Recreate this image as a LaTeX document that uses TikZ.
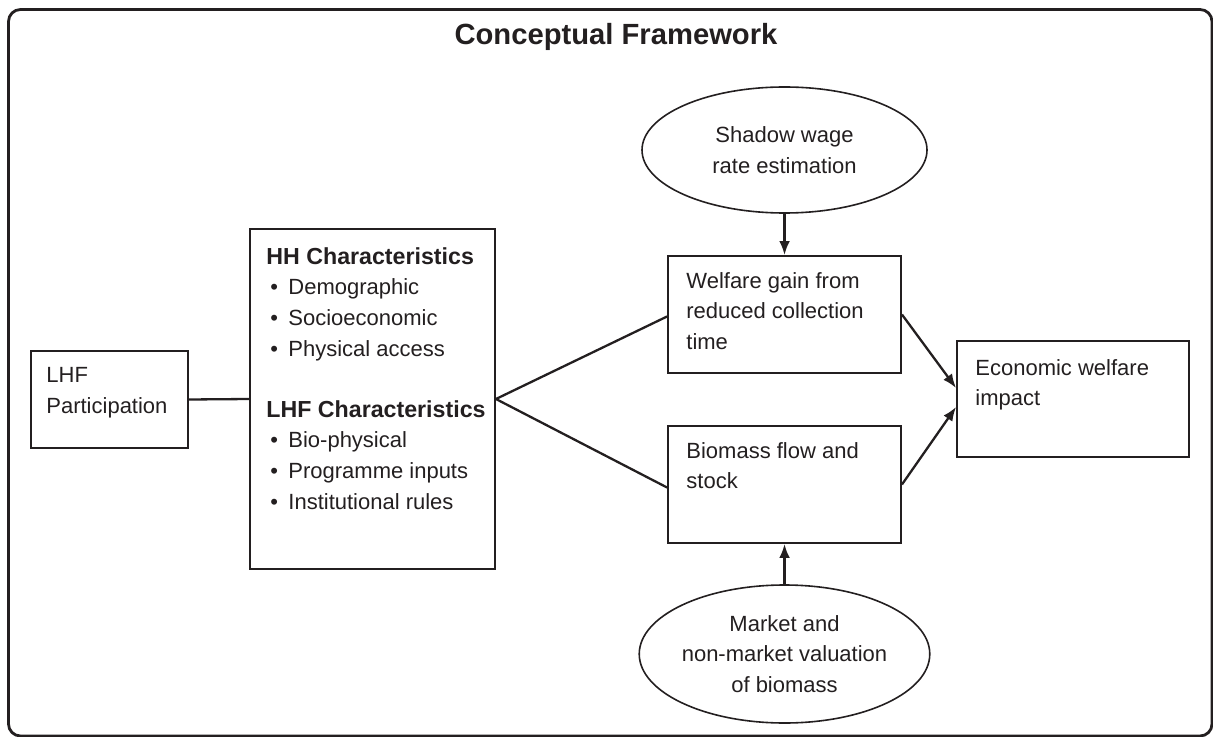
\documentclass[tikz,border=0pt]{standalone}
\usepackage{fontspec}
\setmainfont{Liberation Sans}
\usepackage{tikz}
\usetikzlibrary{arrows.meta,positioning,shapes.geometric}
\definecolor{ink}{HTML}{231F20}
\tikzset{
  box/.style={draw=ink, line width=0.95pt, inner sep=0pt},
  oval/.style={ellipse, draw=ink, line width=0.8pt, inner sep=0pt, align=center,
    font=\fontsize{11}{15.2}\selectfont, text=ink},
  txt/.style={anchor=north west, inner sep=0pt, align=left, text=ink,
    font=\fontsize{11}{15.3}\selectfont},
  link/.style={draw=ink, line width=1.15pt},
  arr/.style={link, -{Latex[length=7pt,width=5.4pt]}},
}
\newcommand{\bul}[1]{\makebox[11pt][l]{\hspace{2pt}\textbullet}#1}

\begin{document}
\begin{tikzpicture}[x=0.5pt,y=-0.5pt]
        \useasboundingbox (0,0) rectangle (1213,737);

        % Outer frame and title
        \draw[draw=ink, line width=1.4pt, rounded corners=6pt] (8.5,9.5) rectangle (1212,736);
        \node[text=ink, font=\fontsize{14.6}{16}\selectfont\bfseries] (title) at (616,37) {Conceptual Framework};

        % Boxes
        \node[box, minimum width=78.5pt, minimum height=48.5pt] (lhf) at (109.5,399.5) {};
        \node[box, minimum width=122.5pt, minimum height=170pt] (chars) at (372.5,399) {};
        \node[box, minimum width=116.5pt, minimum height=58.5pt] (welfare) at (784.5,314.5) {};
        \node[box, minimum width=116.5pt, minimum height=58.5pt] (biomass) at (784.5,484.5) {};
        \node[box, minimum width=116pt, minimum height=58pt] (econ) at (1073,399) {};

        % Texts inside the boxes
        \node[txt] (lhftxt) at (46,367) {LHF\\Participation};
        \node[txt] (charstxt) at (266,247) {%
          {\fontsize{11.6}{15.3}\selectfont\bfseries HH Characteristics}\\
          \bul{Demographic}\\
          \bul{Socioeconomic}\\
          \bul{Physical access}\\[15.3pt]
          {\fontsize{11.6}{15.3}\selectfont\bfseries LHF Characteristics}\\
          \bul{Bio-physical}\\
          \bul{Programme inputs}\\
          \bul{Institutional rules}};
        \node[txt] (welfaretxt) at (686,272) {Welfare gain from\\reduced collection\\time};
        \node[txt] (biomasstxt) at (686,442) {Biomass flow and\\stock};
        \node[txt] (econtxt) at (975,359) {Economic welfare\\impact};

        % Ellipses
        \node[oval, minimum width=142.5pt, minimum height=63pt] (shadow) at (784.5,150) {Shadow wage\\rate estimation};
        \node[oval, minimum width=142.5pt, minimum height=69pt] (market) at (784.5,654) {Market and\\non-market valuation\\of biomass};

        % Connectors
        \draw[link] (lhf.east) -- (chars.west);
        \draw[link] (chars.east) -- ([yshift=-1pt]welfare.west);
        \draw[link] (chars.east) -- ([yshift=-1.5pt]biomass.west);
        \draw[arr] (shadow.south) -- (welfare.north);
        \draw[arr] (market.north) -- (biomass.south);
        \draw[arr] (welfare.east) -- ([yshift=5.5pt]econ.west);
        \draw[arr] (biomass.east) -- ([yshift=-4pt]econ.west);
\end{tikzpicture}
\end{document}
